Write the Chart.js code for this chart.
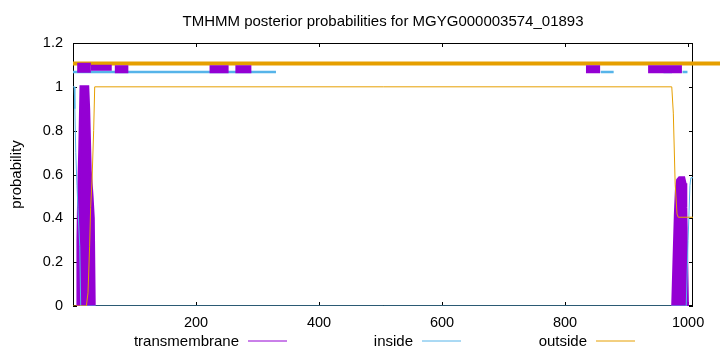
<!DOCTYPE html>
<html>
<head>
<meta charset="utf-8">
<title>TMHMM posterior probabilities</title>
<script src="https://cdn.jsdelivr.net/npm/chart.js@4/dist/chart.umd.min.js"></script>
<style>
  html, body { margin: 0; padding: 0; background: #fff; }
  canvas { display: block; }
</style>
</head>
<body>
<canvas id="tmhmm" width="720" height="352"></canvas>
<script>
// posterior curves (residue position -> probability)
// transmembrane is drawn as impulses, so the zero stretch between the two helices is left out (null)
const tmPos   = [7.2, 8.0, 9.5, 11, 13, 24, 25.5, 28, 31, 33, 34.5, 500, 975, 977, 979.3, 981, 983, 986, 993, 995, 996.3, 999];
const tmProb  = [0, 0.3, 0.55, 0.72, 1, 1, 0.9, 0.62, 0.5, 0.4, 0, null, 0, 0.2, 0.42, 0.53, 0.575, 0.585, 0.585, 0.56, 0.45, 0];

const inPos   = [0, 2, 3, 4.5, 6.5, 8, 11, 12.5, 997, 1000, 1003, 1004.5, 1008];
const inProb  = [1, 1, 0.9, 0.7, 0.55, 0.45, 0.27, 0, 0, 0.3, 0.55, 0.585, 0.585];

const outPos  = [0, 21.7, 24.4, 27, 28.7, 30.9, 33.6, 35.3, 973.5, 976, 979, 982, 984, 1008];
const outProb = [0, 0, 0.06, 0.27, 0.45, 0.57, 0.8, 1, 1, 0.88, 0.556, 0.42, 0.405, 0.405];

// predicted topology bars drawn above the curves
const tmFirstSeg  = [[6.8, 29]];
const tmSecondSeg = [[29, 63]];
const tmSegs      = [[68, 90], [222, 253], [264, 290], [834, 857], [935, 990]];
const insideSegs  = [[0, 330], [858, 879], [960, 974], [991, 999]];
const outsideSegs = [[0, 1060]];
const tmLevel = 1.08, tmFirstLevel = 1.087, insideLevel = 1.068, outsideLevel = 1.106;

const seriesNames  = ['transmembrane', 'inside', 'outside'];
const seriesColors = ['#9400d3', '#56b4e9', '#e69f00'];

const xRange = [0, 1008];
const yRange = [0, 1.2];
const xTickValues = [200, 400, 600, 800, 1000];
const yTickValues = [0, 0.2, 0.4, 0.6, 0.8, 1, 1.2];

const FONT = '"Liberation Sans", Arial, Helvetica, sans-serif';
Chart.defaults.font.family = FONT;
Chart.defaults.color = '#000';

function toPoints(xs, ys) {
    let pts = [];
    for (let i = 0; i < xs.length; i++) pts.push({ x: xs[i], y: ys[i] });
    return pts;
}

function segPoints(segs, level) {
    let pts = [];
    for (let s of segs) {
        pts.push({ x: s[0], y: level });
        pts.push({ x: s[1], y: level });
        pts.push({ x: s[1], y: null });
    }
    return pts;
}

function bar(label, data, color, width, extra) {
    return Object.assign({
        label: label, data: data, borderColor: color, borderWidth: width,
        pointRadius: 0, tension: 0, fill: false, borderCapStyle: 'butt'
    }, extra || {});
}

// gnuplot style frame with inward ticks (under the data)
const framePlugin = {
    id: 'frame',
    beforeDatasetsDraw(chart) {
        const { ctx, chartArea: a, scales } = chart;
        ctx.save();
        ctx.strokeStyle = '#000';
        ctx.lineWidth = 1;
        ctx.strokeRect(a.left + 0.5, a.top + 0.5, a.right - a.left - 1, a.bottom - a.top - 1);
        ctx.beginPath();
        for (let t of scales.x.ticks) {
            let p = Math.round(scales.x.getPixelForValue(t.value)) + 0.5;
            ctx.moveTo(p, a.bottom); ctx.lineTo(p, a.bottom - 4);
            ctx.moveTo(p, a.top); ctx.lineTo(p, a.top + 4);
        }
        for (let t of scales.y.ticks) {
            let p = Math.round(scales.y.getPixelForValue(t.value)) + 0.5;
            ctx.moveTo(a.left, p); ctx.lineTo(a.left + 4, p);
            ctx.moveTo(a.right, p); ctx.lineTo(a.right - 4, p);
        }
        ctx.stroke();
        ctx.restore();
    }
};

// key below the axis: text then line sample
const keyPlugin = {
    id: 'gnuKey',
    afterDraw(chart, args, opts) {
        const ctx = chart.ctx;
        ctx.save();
        ctx.font = '15px ' + FONT;
        ctx.textBaseline = 'middle';
        ctx.textAlign = 'right';
        seriesNames.forEach((name, i) => {
            let right = opts.firstRight + i * opts.step;
            ctx.fillStyle = '#000';
            ctx.fillText(name, right, opts.y + 0.5);
            ctx.strokeStyle = seriesColors[i];
            ctx.lineWidth = 1;
            ctx.beginPath();
            ctx.moveTo(right + 9, opts.y);
            ctx.lineTo(right + 48, opts.y);
            ctx.stroke();
        });
        ctx.restore();
    }
};

new Chart(document.getElementById('tmhmm'), {
    type: 'line',
    data: {
        datasets: [
            bar('tm topology 1', segPoints(tmFirstSeg, tmFirstLevel), seriesColors[0], 10),
            bar('tm topology 1b', segPoints(tmSecondSeg, tmFirstLevel), seriesColors[0], 6),
            bar('tm topology', segPoints(tmSegs, tmLevel), seriesColors[0], 8),
            bar('inside topology', segPoints(insideSegs, insideLevel), seriesColors[1], 2.5),
            bar('outside topology', segPoints(outsideSegs, outsideLevel), seriesColors[2], 4, { clip: false }),
            bar(seriesNames[2], toPoints(outPos, outProb), seriesColors[2], 1),
            bar(seriesNames[1], toPoints(inPos, inProb), seriesColors[1], 1),
            bar(seriesNames[0], toPoints(tmPos, tmProb), seriesColors[0], 3,
                { fill: 'origin', backgroundColor: seriesColors[0], spanGaps: false })
        ]
    },
    options: {
        responsive: false,
        animation: false,
        devicePixelRatio: 1,
        layout: { padding: { left: 0, right: 27, top: 0, bottom: 0 } },
        plugins: {
            legend: { display: false },
            tooltip: { enabled: false },
            title: {
                display: true,
                fullSize: false,
                text: 'TMHMM posterior probabilities for MGYG000003574_01893',
                font: { size: 15, weight: 'normal' },
                color: '#000',
                padding: { top: 13, bottom: 12 }
            },
            gnuKey: { firstRight: 239, step: 174, y: 341 }
        },
        scales: {
            x: {
                type: 'linear',
                min: xRange[0],
                max: xRange[1],
                grid: { display: false, drawTicks: false },
                border: { display: false },
                ticks: {
                    autoSkip: false,
                    maxRotation: 0,
                    padding: 8,
                    font: { size: 14.5 },
                    color: '#000',
                    callback: (v) => String(v)
                },
                afterBuildTicks: (scale) => { scale.ticks = xTickValues.map(v => ({ value: v })); },
                afterFit: (scale) => { scale.height = 46; }
            },
            y: {
                min: yRange[0],
                max: yRange[1],
                grid: { display: false, drawTicks: false },
                border: { display: false },
                ticks: {
                    autoSkip: false,
                    padding: 10,
                    font: { size: 14.5 },
                    color: '#000',
                    callback: (v) => String(v)
                },
                afterBuildTicks: (scale) => { scale.ticks = yTickValues.map(v => ({ value: v })); },
                title: {
                    display: true,
                    text: 'probability',
                    font: { size: 15 },
                    color: '#000',
                    padding: { top: 8, bottom: 0 }
                },
                afterFit: (scale) => { scale.width = 73; }
            }
        }
    },
    plugins: [framePlugin, keyPlugin]
});
</script>
</body>
</html>
